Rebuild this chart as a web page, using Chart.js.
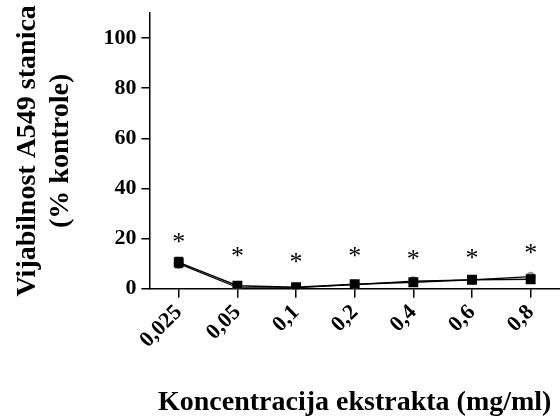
<!DOCTYPE html>
<html>
<head>
<meta charset="utf-8">
<script src="https://cdn.jsdelivr.net/npm/chart.js@4.4.1/dist/chart.umd.min.js"></script>
<style>
  html, body { margin: 0; padding: 0; background: #fff; }
  #wrap { width: 560px; height: 420px; }
</style>
</head>
<body>
<div id="wrap"><canvas id="c"></canvas></div>
<script>
const categories = ['0,025', '0,05', '0,1', '0,2', '0,4', '0,6', '0,8'];
const blackValues = [10.5, 1.2, 0.6, 1.8, 2.6, 3.6, 3.8];
const blackErrors = [2.0, 0.6, 0.5, 0.5, 0.5, 0.8, 0.8];
const grayValues = [10.0, 0.5, 0.4, 1.6, 3.0, 3.5, 4.8];
const starValues = [20, 14.4, 12, 14.4, 13.2, 13.6, 15.6];
const yTicks = [0, 20, 40, 60, 80, 100];

const FONT = "'Liberation Serif', 'Times New Roman', serif";

const extrasPlugin = {
  id: 'extras',
  afterDatasetsDraw(chart) {
    const ctx = chart.ctx;
    const xs = chart.scales.x, ys = chart.scales.y;
    ctx.save();
    ctx.strokeStyle = '#000';
    ctx.lineWidth = 1.5;
    blackValues.forEach((v, i) => {
      const x = xs.getPixelForValue(i);
      const y1 = ys.getPixelForValue(v + blackErrors[i]);
      const y2 = ys.getPixelForValue(v - blackErrors[i]);
      ctx.beginPath();
      ctx.moveTo(x, y1); ctx.lineTo(x, y2);
      ctx.moveTo(x - 4, y1); ctx.lineTo(x + 4, y1);
      ctx.moveTo(x - 4, y2); ctx.lineTo(x + 4, y2);
      ctx.stroke();
    });
    ctx.fillStyle = '#000';
    ctx.font = "26px " + FONT;
    ctx.textAlign = 'center';
    ctx.textBaseline = 'middle';
    starValues.forEach((v, i) => {
      const x = xs.getPixelForValue(i);
      const y = ys.getPixelForValue(v);
      ctx.fillText('*', x, y + 5);
    });
    ctx.restore();
  }
};

new Chart(document.getElementById('c'), {
  type: 'line',
  data: {
    labels: categories,
    datasets: [
      {
        label: 'gray',
        data: grayValues,
        borderColor: '#000',
        borderWidth: 1.2,
        pointStyle: 'circle',
        pointRadius: 5,
        pointBackgroundColor: '#999',
        pointBorderColor: '#999',
        pointBorderWidth: 0,
        tension: 0,
        order: 2
      },
      {
        label: 'black',
        data: blackValues,
        borderColor: '#000',
        borderWidth: 1.5,
        pointStyle: 'rect',
        pointRadius: 7,
        pointBackgroundColor: '#000',
        pointBorderColor: '#000',
        pointBorderWidth: 0,
        tension: 0,
        order: 1
      }
    ]
  },
  options: {
    responsive: true,
    maintainAspectRatio: false,
    animation: false,
    events: [],
    layout: { autoPadding: false, padding: { top: 13, right: 0, left: 12, bottom: 0 } },
    plugins: {
      legend: { display: false },
      tooltip: { enabled: false }
    },
    scales: {
      x: {
        type: 'category',
        offset: true,
        afterFit(scale) { scale.paddingRight = 0; },
        grid: { display: true, drawOnChartArea: false, offset: false, color: '#000', lineWidth: 1.5, tickLength: 9 },
        border: { color: '#000', width: 1.5 },
        ticks: {
          color: '#000',
          font: { family: FONT, size: 22, weight: 'bold' },
          maxRotation: 45, minRotation: 45,
          padding: 2
        },
        title: {
          display: true,
          text: 'Koncentracija ekstrakta (mg/ml)',
          color: '#000',
          font: { family: FONT, size: 28, weight: 'bold' },
          padding: { top: 31, bottom: 0 }
        }
      },
      y: {
        min: 0, max: 110,
        afterBuildTicks(scale) {
          scale.ticks = yTicks.map(v => ({ value: v }));
        },
        afterFit(scale) { scale.paddingTop = 0; },
        grid: { display: true, drawOnChartArea: false, color: '#000', lineWidth: 1.5, tickLength: 8 },
        border: { color: '#000', width: 1.5 },
        ticks: {
          color: '#000',
          font: { family: FONT, size: 22, weight: 'bold' },
          padding: 5
        },
        title: {
          display: true,
          text: ['Vijabilnost A549 stanica', '(% kontrole)'],
          color: '#000',
          font: { family: FONT, size: 28, weight: 'bold', lineHeight: 1.15 },
          padding: { top: 0, bottom: 22 }
        }
      }
    }
  },
  plugins: [extrasPlugin]
});
</script>
</body>
</html>
